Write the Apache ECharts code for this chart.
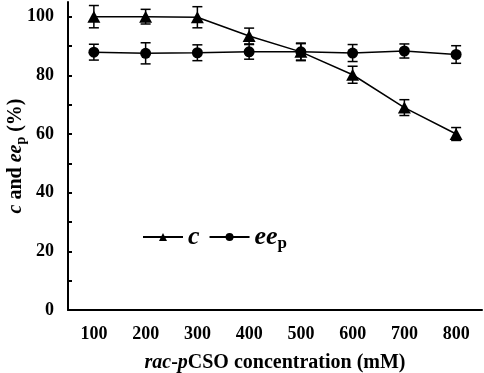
<!DOCTYPE html>
<html><head><meta charset="utf-8">
<script src="https://cdn.jsdelivr.net/npm/echarts@6/dist/echarts.min.js"></script>
<style>html,body{margin:0;padding:0;background:#fff}#c{width:484px;height:373px}</style>
</head><body><div id="c"></div>
<script>
var categories = ['100','200','300','400','500','600','700','800'];
var cValues = [100, 100, 99.8, 93.4, 88.0, 80.2, 69.0, 60.0];
var cErrors = [3.8, 2.5, 3.6, 2.7, 2.8, 2.9, 2.7, 2.2];
var eeValues = [87.9, 87.5, 87.7, 88.0, 88.0, 87.6, 88.3, 87.1];
var eeErrors = [2.7, 3.6, 2.7, 2.5, 3.0, 2.9, 2.4, 3.0];
var yTicks = [0,10,20,30,40,50,60,70,80,90,100];
var yLabels = [0,20,40,60,80,100];

var FONT = '"Liberation Serif","Times New Roman",serif';

function errData(vals, errs){
  return vals.map(function(v,i){ return [i, v - errs[i], v + errs[i]]; });
}
function errRender(params, api){
  var x = api.value(0);
  var lo = api.coord([x, api.value(1)]);
  var hi = api.coord([x, api.value(2)]);
  var hw = 5;
  var st = {stroke:'#000', lineWidth:1.5};
  return {type:'group', children:[
    {type:'line', shape:{x1:lo[0],y1:lo[1],x2:hi[0],y2:hi[1]}, style:st},
    {type:'line', shape:{x1:lo[0]-hw,y1:lo[1],x2:lo[0]+hw,y2:lo[1]}, style:st},
    {type:'line', shape:{x1:hi[0]-hw,y1:hi[1],x2:hi[0]+hw,y2:hi[1]}, style:st}
  ]};
}

var chart = echarts.init(document.getElementById('c'), null, {renderer:'canvas'});
chart.setOption({
  animation:false,
  backgroundColor:'#fff',
  grid:{left:68, right:2, top:2, bottom:63, containLabel:false, outerBoundsMode:'none'},
  legend:{
    left:137, top:219, itemWidth:40, itemHeight:10, itemGap:9,
    data:['c','ee'],
    textStyle:{fontFamily:FONT, fontSize:26, fontWeight:'bold', fontStyle:'italic', color:'#000',
      rich:{
        i:{fontFamily:FONT, fontSize:26, fontWeight:'bold', fontStyle:'italic', color:'#000'},
        s:{fontFamily:FONT, fontSize:17, fontWeight:'bold', fontStyle:'normal', color:'#000', verticalAlign:'bottom', padding:[14,0,0,0]}
      }},
    formatter:function(n){ return n==='c' ? '{i|c}' : '{i|ee}{s|p}'; }
  },
  xAxis:{
    type:'category', data:categories, boundaryGap:true,
    name:'{it|rac}{n|-}{it|p}{n|CSO concentration (mM)}', nameLocation:'middle', nameGap:43, nameMoveOverlap:false,
    nameTextStyle:{fontFamily:FONT, fontSize:20, fontWeight:'bold', color:'#000',
      rich:{
        it:{fontFamily:FONT, fontSize:20, fontWeight:'bold', fontStyle:'italic', color:'#000'},
        n:{fontFamily:FONT, fontSize:20, fontWeight:'bold', color:'#000'}
      }},
    axisLine:{lineStyle:{color:'#000', width:2}},
    axisTick:{alignWithLabel:true, inside:true, length:4, lineStyle:{color:'#000', width:2}},
    axisLabel:{fontFamily:FONT, fontSize:18, fontWeight:'bold', color:'#000', margin:15},
    splitLine:{show:false}
  },
  yAxis:{
    type:'value', min:0, max:105,
    name:'{it|c}{n| and }{it|ee}{sub|p}{n| (%)}', nameLocation:'middle', nameGap:40, nameRotate:90, nameMoveOverlap:false,
    nameTextStyle:{fontFamily:FONT, fontSize:20, fontWeight:'bold', color:'#000',
      rich:{
        it:{fontFamily:FONT, fontSize:20, fontWeight:'bold', fontStyle:'italic', color:'#000'},
        n:{fontFamily:FONT, fontSize:20, fontWeight:'bold', color:'#000'},
        sub:{fontFamily:FONT, fontSize:14, fontWeight:'bold', color:'#000', verticalAlign:'bottom', padding:[10,0,0,0]}
      }},
    axisLine:{show:true, lineStyle:{color:'#000', width:2}},
    axisTick:{show:true, inside:true, length:4, customValues:yTicks, lineStyle:{color:'#000', width:2}},
    axisLabel:{fontFamily:FONT, fontSize:18, fontWeight:'bold', color:'#000', margin:14, customValues:yLabels},
    splitLine:{show:false}
  },
  series:[
    {type:'custom', name:'cErr', renderItem:errRender, data:errData(cValues,cErrors), encode:{x:0,y:[1,2]}, z:1, silent:true},
    {type:'custom', name:'eeErr', renderItem:errRender, data:errData(eeValues,eeErrors), encode:{x:0,y:[1,2]}, z:1, silent:true},
    {type:'line', name:'c', data:cValues, symbol:'triangle', symbolSize:[13,12], showSymbol:true,
      lineStyle:{color:'#000', width:1.5}, itemStyle:{color:'#000'}, z:3},
    {type:'line', name:'ee', data:eeValues, symbol:'circle', symbolSize:11,
      lineStyle:{color:'#000', width:1.5}, itemStyle:{color:'#000'}, z:3}
  ]
});
</script></body></html>
